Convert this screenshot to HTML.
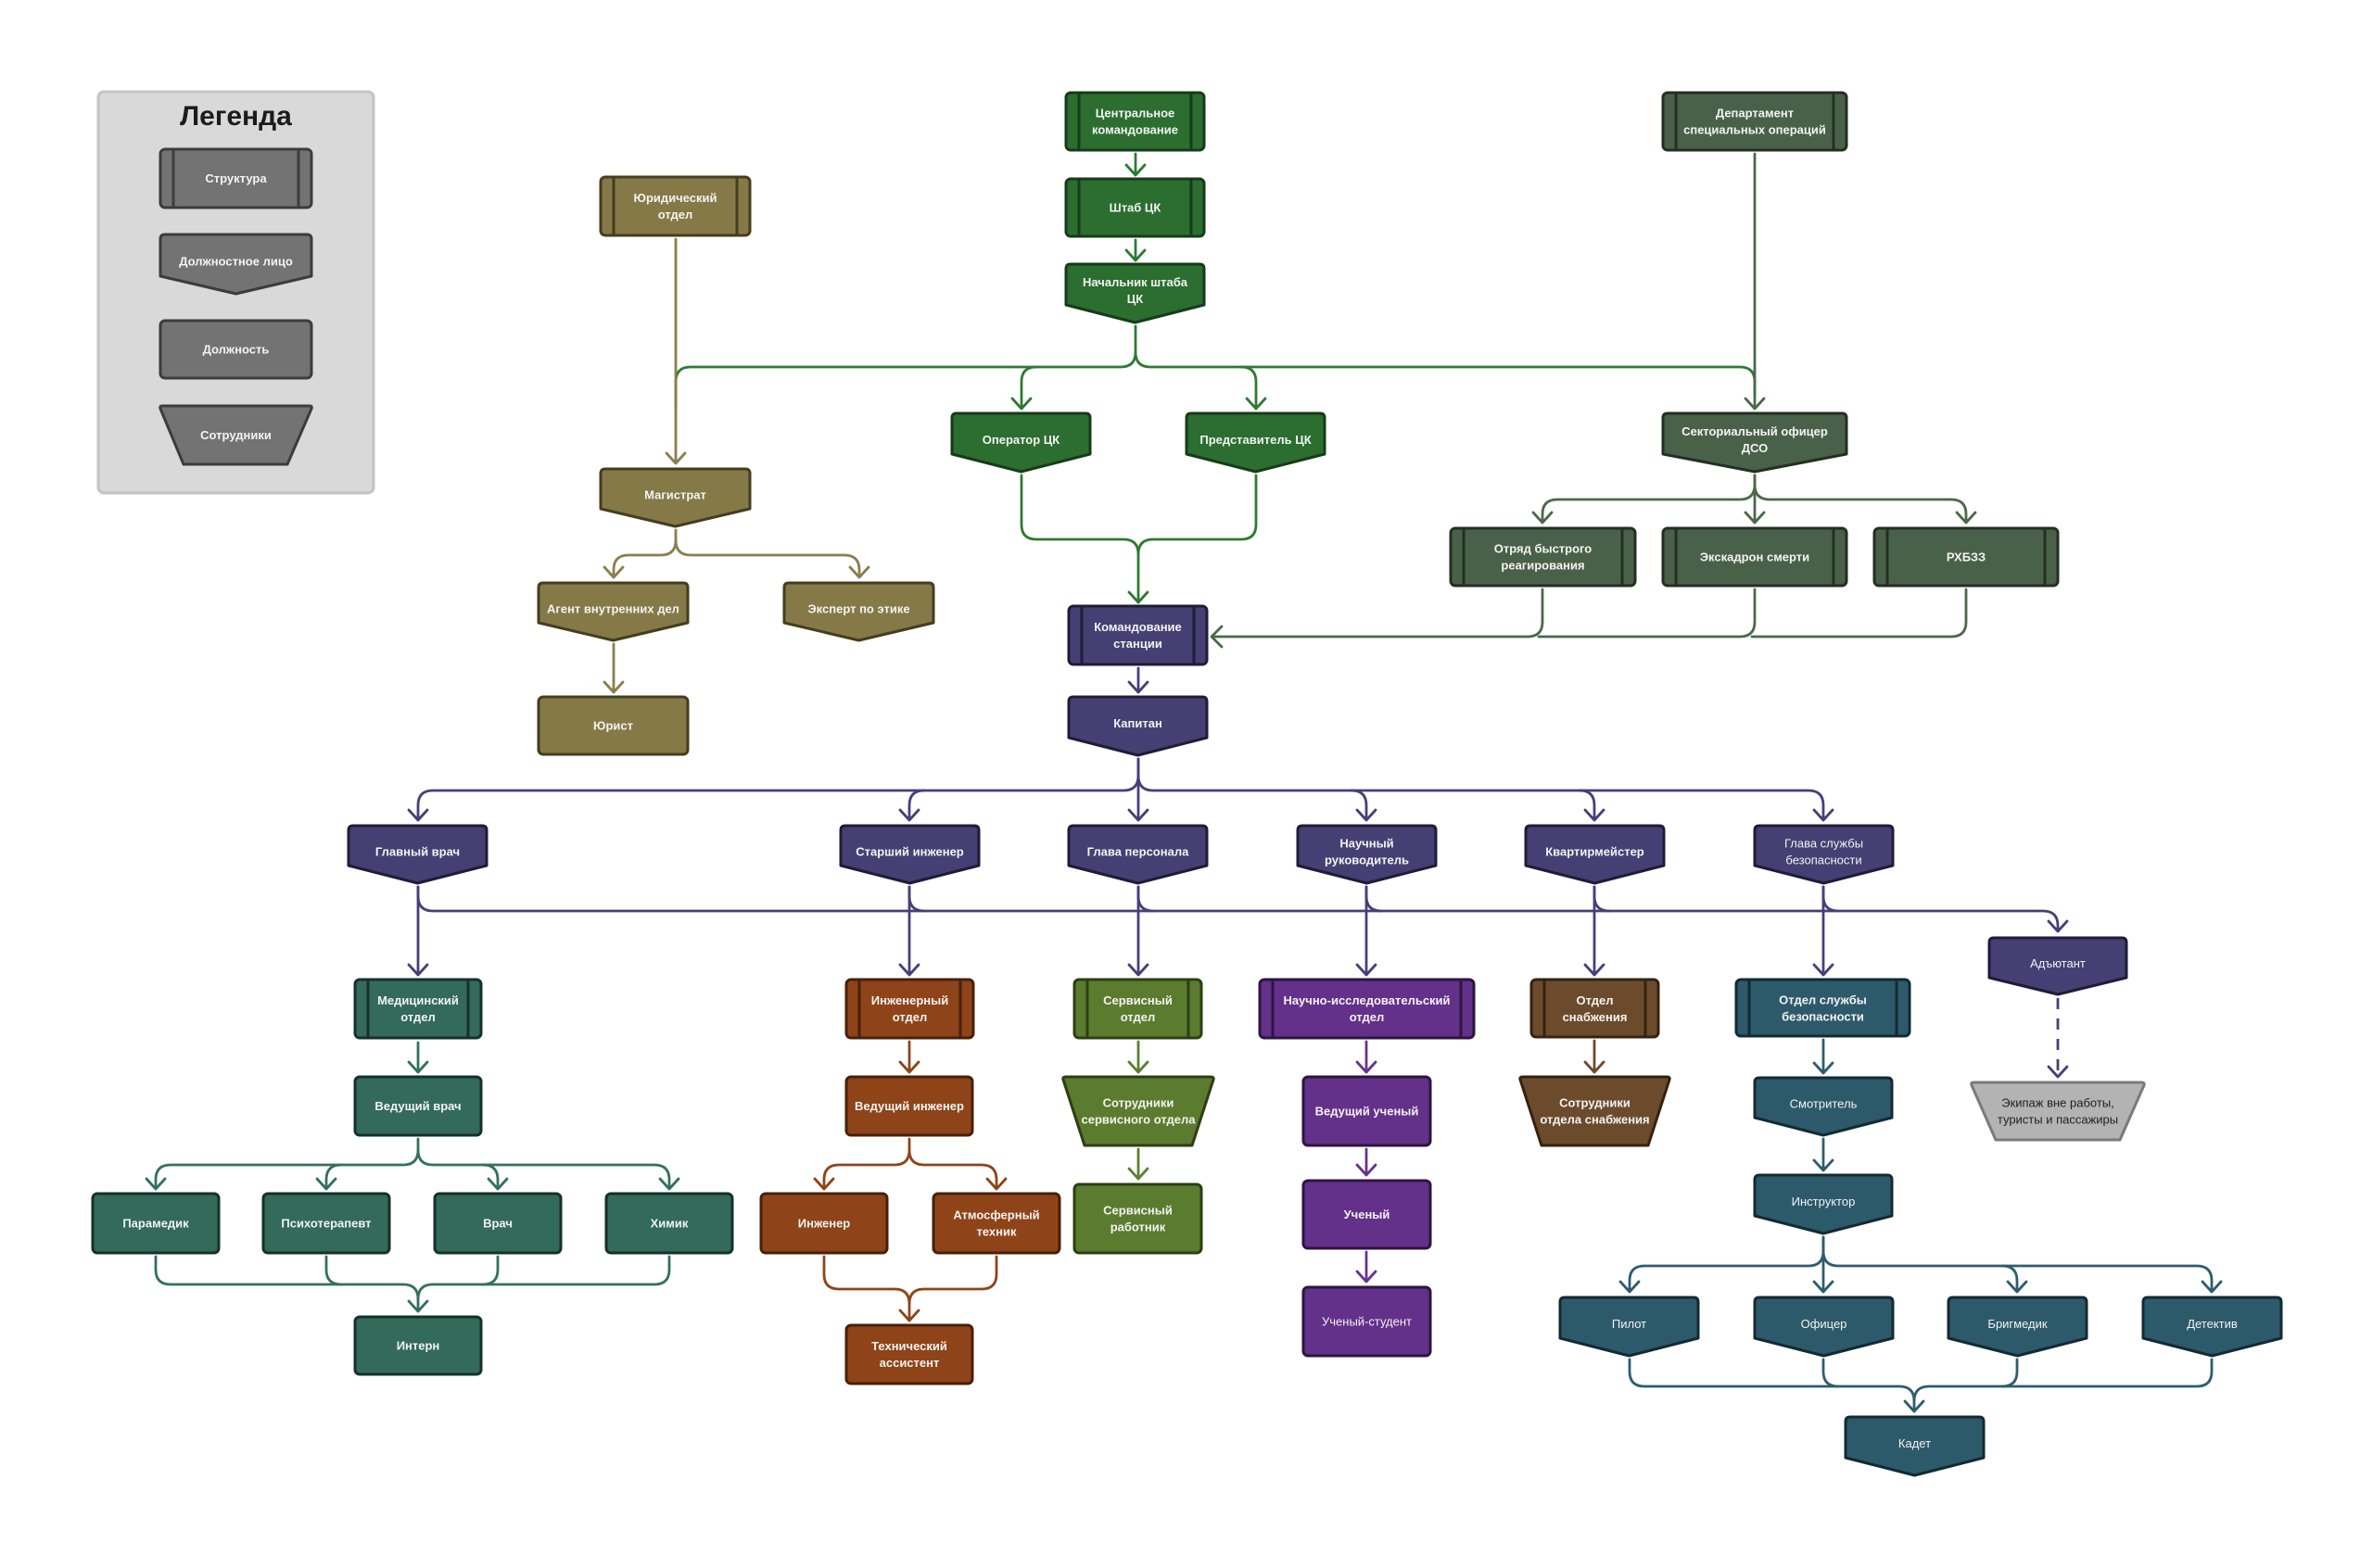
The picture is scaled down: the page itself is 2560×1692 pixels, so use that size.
<!DOCTYPE html>
<html><head><meta charset="utf-8"><title>Org chart</title>
<style>
html,body{margin:0;padding:0;background:#fff;}
svg{display:block;}
text{font-family:"Liberation Sans","DejaVu Sans",sans-serif;font-size:13px;text-anchor:middle;fill:#f3f3f3;font-weight:bold;}
text.n{font-weight:normal;}
.c{fill:none;stroke-width:2.8;stroke-linecap:round;stroke-linejoin:round;}
.nd{stroke-width:3;stroke-linejoin:round;}
</style></head>
<body>
<svg width="2560" height="1692" viewBox="0 0 2560 1692" xmlns="http://www.w3.org/2000/svg">
<rect width="2560" height="1692" fill="#ffffff"/>

<!-- ================= CONNECTORS ================= -->
<!-- Green CK -->
<g class="c" stroke="#2f7a33">
<path d="M1225,166 V189 M1215,178 L1225,189 L1235,178"/>
<path d="M1225,259 V281 M1215,270 L1225,281 L1235,270"/>
<path d="M1225,352 V380 Q1225,396 1209,396 H745 Q729,396 729,412 V440"/>
<path d="M1225,380 Q1225,396 1241,396 H1877 Q1893,396 1893,412 V425"/>
<path d="M1118,396 Q1102,396 1102,412 V441 M1092,430 L1102,441 L1112,430"/>
<path d="M1339,396 Q1355,396 1355,412 V441 M1345,430 L1355,441 L1365,430"/>
<path d="M1102,513 V566 Q1102,582 1118,582 H1212 Q1228,582 1228,598 V650"/>
<path d="M1355,513 V566 Q1355,582 1339,582 H1244 Q1228,582 1228,598"/>
<path d="M1218,639 L1228,650 L1238,639"/>
</g>
<!-- DSO -->
<g class="c" stroke="#4b694b">
<path d="M1893,166 V441 M1883,430 L1893,441 L1903,430"/>
<path d="M1893,513 V523 Q1893,539 1877,539 H1680 Q1664,539 1664,555 V564 M1654,553 L1664,564 L1674,553"/>
<path d="M1893,523 Q1893,539 1909,539 H2105 Q2121,539 2121,555 V564 M2111,553 L2121,564 L2131,553"/>
<path d="M1893,513 V564 M1883,553 L1893,564 L1903,553"/>
<path d="M1664,636 V671 Q1664,687 1648,687 H1308"/>
<path d="M1893,636 V671 Q1893,687 1877,687 H1660"/>
<path d="M2121,636 V671 Q2121,687 2105,687 H1890"/>
<path d="M1318,676 L1307,687 L1318,698"/>
</g>
<!-- Olive -->
<g class="c" stroke="#8a7e4e">
<path d="M729,258 V500 M719,489 L729,500 L739,489"/>
<path d="M729,572 V583 Q729,599 713,599 H678 Q662,599 662,615 V623 M652,612 L662,623 L672,612"/>
<path d="M729,583 Q729,599 745,599 H911 Q927,599 927,615 V623 M917,612 L927,623 L937,612"/>
<path d="M662,695 V747 M652,736 L662,747 L672,736"/>
</g>
<!-- Purple -->
<g class="c" stroke="#473f78">
<path d="M1228,721 V747 M1218,736 L1228,747 L1238,736"/>
<path d="M1228,819 V837 Q1228,853 1212,853 H467 Q451,853 451,869 V885 M441,874 L451,885 L461,874"/>
<path d="M1228,837 Q1228,853 1244,853 H1951 Q1967,853 1967,869 V885 M1957,874 L1967,885 L1977,874"/>
<path d="M1228,819 V885 M1218,874 L1228,885 L1238,874"/>
<path d="M997,853 Q981,853 981,869 V885 M971,874 L981,885 L991,874"/>
<path d="M1458,853 Q1474,853 1474,869 V885 M1464,874 L1474,885 L1484,874"/>
<path d="M1704,853 Q1720,853 1720,869 V885 M1710,874 L1720,885 L1730,874"/>
<path d="M451,957 V967 Q451,983 467,983 H2204 Q2220,983 2220,999 V1005 M2210,994 L2220,1005 L2230,994"/>
<path d="M981,957 V967 Q981,983 997,983"/>
<path d="M1228,957 V967 Q1228,983 1244,983"/>
<path d="M1474,957 V967 Q1474,983 1490,983"/>
<path d="M1720,957 V967 Q1720,983 1736,983"/>
<path d="M1967,957 V967 Q1967,983 1983,983"/>
<path d="M451,957 V1052 M441,1041 L451,1052 L461,1041"/>
<path d="M981,957 V1052 M971,1041 L981,1052 L991,1041"/>
<path d="M1228,957 V1052 M1218,1041 L1228,1052 L1238,1041"/>
<path d="M1474,957 V1052 M1464,1041 L1474,1052 L1484,1041"/>
<path d="M1720,957 V1052 M1710,1041 L1720,1052 L1730,1041"/>
<path d="M1967,957 V1052 M1957,1041 L1967,1052 L1977,1041"/>
<path d="M2220,1077 V1162" stroke-dasharray="12 10" stroke-linecap="butt"/>
<path d="M2210,1151 L2220,1162 L2230,1151"/>
</g>
<!-- Medical -->
<g class="c" stroke="#34705e">
<path d="M451,1125 V1157 M441,1146 L451,1157 L461,1146"/>
<path d="M451,1229 V1241 Q451,1257 435,1257 H184 Q168,1257 168,1273 V1283 M158,1272 L168,1283 L178,1272"/>
<path d="M368,1257 Q352,1257 352,1273 V1283 M342,1272 L352,1283 L362,1272"/>
<path d="M451,1241 Q451,1257 467,1257 H706 Q722,1257 722,1273 V1283 M712,1272 L722,1283 L732,1272"/>
<path d="M521,1257 Q537,1257 537,1273 V1283 M527,1272 L537,1283 L547,1272"/>
<path d="M168,1356 V1370 Q168,1386 184,1386 H435 Q451,1386 451,1402 V1415"/>
<path d="M722,1356 V1370 Q722,1386 706,1386 H467 Q451,1386 451,1402"/>
<path d="M352,1356 V1370 Q352,1386 368,1386"/>
<path d="M537,1356 V1370 Q537,1386 521,1386"/>
<path d="M441,1404 L451,1415 L461,1404"/>
</g>
<!-- Engineering -->
<g class="c" stroke="#8e4519">
<path d="M981,1124 V1157 M971,1146 L981,1157 L991,1146"/>
<path d="M981,1229 V1241 Q981,1257 965,1257 H905 Q889,1257 889,1273 V1283 M879,1272 L889,1283 L899,1272"/>
<path d="M981,1241 Q981,1257 997,1257 H1059 Q1075,1257 1075,1273 V1283 M1065,1272 L1075,1283 L1085,1272"/>
<path d="M889,1356 V1375 Q889,1391 905,1391 H965 Q981,1391 981,1407 V1425"/>
<path d="M1075,1356 V1375 Q1075,1391 1059,1391 H997 Q981,1391 981,1407"/>
<path d="M971,1414 L981,1425 L991,1414"/>
</g>
<!-- Service -->
<g class="c" stroke="#5e7f31">
<path d="M1228,1124 V1157 M1218,1146 L1228,1157 L1238,1146"/>
<path d="M1228,1240 V1272 M1218,1261 L1228,1272 L1238,1261"/>
</g>
<!-- Science -->
<g class="c" stroke="#66348e">
<path d="M1474,1124 V1157 M1464,1146 L1474,1157 L1484,1146"/>
<path d="M1474,1240 V1268 M1464,1257 L1474,1268 L1484,1257"/>
<path d="M1474,1351 V1383 M1464,1372 L1474,1383 L1484,1372"/>
</g>
<!-- Supply -->
<g class="c" stroke="#6c4b2d">
<path d="M1720,1123 V1157 M1710,1146 L1720,1157 L1730,1146"/>
</g>
<!-- Security -->
<g class="c" stroke="#2e5d6e">
<path d="M1967,1122 V1158 M1957,1147 L1967,1158 L1977,1147"/>
<path d="M1967,1229 V1263 M1957,1252 L1967,1263 L1977,1252"/>
<path d="M1967,1335 V1350 Q1967,1366 1951,1366 H1774 Q1758,1366 1758,1382 V1394 M1748,1383 L1758,1394 L1768,1383"/>
<path d="M1967,1350 Q1967,1366 1983,1366 H2370 Q2386,1366 2386,1382 V1394 M2376,1383 L2386,1394 L2396,1383"/>
<path d="M2160,1366 Q2176,1366 2176,1382 V1394 M2166,1383 L2176,1394 L2186,1383"/>
<path d="M1967,1335 V1394 M1957,1383 L1967,1394 L1977,1383"/>
<path d="M1758,1467 V1480 Q1758,1496 1774,1496 H2049 Q2065,1496 2065,1512 V1523"/>
<path d="M2386,1467 V1480 Q2386,1496 2370,1496 H2081 Q2065,1496 2065,1512"/>
<path d="M1967,1467 V1480 Q1967,1496 1983,1496"/>
<path d="M2176,1467 V1480 Q2176,1496 2160,1496"/>
<path d="M2055,1512 L2065,1523 L2075,1512"/>
</g>

<!-- ================= LEGEND ================= -->
<rect x="106" y="99" width="297" height="433" rx="6" fill="#d9d9d9" stroke="#c4c4c4" stroke-width="3"/>
<text x="254.5" y="135" style="font-size:30px;fill:#1c1c1c;">Легенда</text>
<g class="nd" fill="#737373" stroke="#3c3c3c">
<rect x="173" y="161" width="163" height="63" rx="5"/>
<line x1="187" y1="161" x2="187" y2="224"/><line x1="322" y1="161" x2="322" y2="224"/>
<path d="M178,253 H331 Q336,253 336,258 V298 L254.5,317 L173,298 V258 Q173,253 178,253 Z"/>
<rect x="173" y="346" width="163" height="62" rx="5"/>
<path d="M175,438 H334 Q337,438 336,441 L310,501 H198 L173,441 Q172,438 175,438 Z"/>
</g>
<text x="254.5" y="197">Структура</text>
<text x="254.5" y="286.5">Должностное лицо</text>
<text x="254.5" y="381.5">Должность</text>
<text x="254.5" y="474">Сотрудники</text>

<!-- ================= GREEN CK ================= -->
<g class="nd" fill="#2b6e2f" stroke="#173b19">
<rect x="1150" y="100" width="149" height="62" rx="5"/>
<line x1="1164" y1="100" x2="1164" y2="162"/><line x1="1285" y1="100" x2="1285" y2="162"/>
<rect x="1150" y="193" width="149" height="62" rx="5"/>
<line x1="1164" y1="193" x2="1164" y2="255"/><line x1="1285" y1="193" x2="1285" y2="255"/>
<path d="M1155,285 H1294 Q1299,285 1299,290 V329 L1224.5,348 L1150,329 V290 Q1150,285 1155,285 Z"/>
<path d="M1032,446 H1171 Q1176,446 1176,451 V490 L1101.5,509 L1027,490 V451 Q1027,446 1032,446 Z"/>
<path d="M1285,446 H1424 Q1429,446 1429,451 V490 L1354.5,509 L1280,490 V451 Q1280,446 1285,446 Z"/>
</g>
<text x="1224.5" y="126.5">Центральное</text><text x="1224.5" y="144.5">командование</text>
<text x="1224.5" y="228.5">Штаб ЦК</text>
<text x="1224.5" y="309">Начальник штаба</text><text x="1224.5" y="327">ЦК</text>
<text x="1101.5" y="479">Оператор ЦК</text>
<text x="1354.5" y="479">Представитель ЦК</text>

<!-- ================= DSO ================= -->
<g class="nd" fill="#4a6149" stroke="#232f23">
<rect x="1794" y="100" width="198" height="62" rx="5"/>
<line x1="1808" y1="100" x2="1808" y2="162"/><line x1="1978" y1="100" x2="1978" y2="162"/>
<path d="M1799,446 H1987 Q1992,446 1992,451 V490 L1893,509 L1794,490 V451 Q1794,446 1799,446 Z"/>
<rect x="1565" y="570" width="199" height="62" rx="5"/>
<line x1="1579" y1="570" x2="1579" y2="632"/><line x1="1750" y1="570" x2="1750" y2="632"/>
<rect x="1794" y="570" width="198" height="62" rx="5"/>
<line x1="1808" y1="570" x2="1808" y2="632"/><line x1="1978" y1="570" x2="1978" y2="632"/>
<rect x="2022" y="570" width="198" height="62" rx="5"/>
<line x1="2036" y1="570" x2="2036" y2="632"/><line x1="2206" y1="570" x2="2206" y2="632"/>
</g>
<text x="1893" y="126.5">Департамент</text><text x="1893" y="144.5">специальных операций</text>
<text x="1893" y="470">Секториальный офицер</text><text x="1893" y="488">ДСО</text>
<text x="1664.5" y="596.5">Отряд быстрого</text><text x="1664.5" y="614.5">реагирования</text>
<text x="1893" y="605.5">Экскадрон смерти</text>
<text x="2121" y="605.5">РХБЗЗ</text>

<!-- ================= OLIVE ================= -->
<g class="nd" fill="#857947" stroke="#443d1f">
<rect x="648" y="191" width="161" height="63" rx="5"/>
<line x1="662" y1="191" x2="662" y2="254"/><line x1="795" y1="191" x2="795" y2="254"/>
<path d="M653,506 H804 Q809,506 809,511 V549 L728.5,568 L648,549 V511 Q648,506 653,506 Z"/>
<path d="M586,629 H737 Q742,629 742,634 V672 L661.5,691 L581,672 V634 Q581,629 586,629 Z"/>
<path d="M851,629 H1002 Q1007,629 1007,634 V672 L926.5,691 L846,672 V634 Q846,629 851,629 Z"/>
<rect x="581" y="752" width="161" height="62" rx="5"/>
</g>
<text x="728.5" y="218">Юридический</text><text x="728.5" y="236">отдел</text>
<text x="728.5" y="538.5">Магистрат</text>
<text x="661.5" y="661.5">Агент внутренних дел</text>
<text x="926.5" y="661.5">Эксперт по этике</text>
<text x="661.5" y="787.5">Юрист</text>

<!-- ================= PURPLE ================= -->
<g class="nd" fill="#463f73" stroke="#1f1c37">
<rect x="1153" y="654" width="149" height="63" rx="5"/>
<line x1="1167" y1="654" x2="1167" y2="717"/><line x1="1288" y1="654" x2="1288" y2="717"/>
<path d="M1158,752 H1297 Q1302,752 1302,757 V796 L1227.5,815 L1153,796 V757 Q1153,752 1158,752 Z"/>
<path d="M381,891 H520 Q525,891 525,896 V934 L450.5,953 L376,934 V896 Q376,891 381,891 Z"/>
<path d="M912,891 H1051 Q1056,891 1056,896 V934 L981.5,953 L907,934 V896 Q907,891 912,891 Z"/>
<path d="M1158,891 H1297 Q1302,891 1302,896 V934 L1227.5,953 L1153,934 V896 Q1153,891 1158,891 Z"/>
<path d="M1405,891 H1544 Q1549,891 1549,896 V934 L1474.5,953 L1400,934 V896 Q1400,891 1405,891 Z"/>
<path d="M1651,891 H1790 Q1795,891 1795,896 V934 L1720.5,953 L1646,934 V896 Q1646,891 1651,891 Z"/>
<path d="M1898,891 H2037 Q2042,891 2042,896 V934 L1967.5,953 L1893,934 V896 Q1893,891 1898,891 Z"/>
<path d="M2151,1012 H2289 Q2294,1012 2294,1017 V1055 L2220,1073 L2146,1055 V1017 Q2146,1012 2151,1012 Z"/>
</g>
<text x="1227.5" y="681">Командование</text><text x="1227.5" y="699">станции</text>
<text x="1227.5" y="785">Капитан</text>
<text x="450.5" y="923.5">Главный врач</text>
<text x="981.5" y="923.5">Старший инженер</text>
<text x="1227.5" y="923.5">Глава персонала</text>
<text x="1474.5" y="914.5">Научный</text><text x="1474.5" y="932.5">руководитель</text>
<text x="1720.5" y="923.5">Квартирмейстер</text>
<text class="n" x="1967.5" y="914.5">Глава службы</text><text class="n" x="1967.5" y="932.5">безопасности</text>
<text class="n" x="2220" y="1044">Адъютант</text>

<!-- Crew trapezoid -->
<path class="nd" d="M2129,1168 H2310 Q2314,1168 2313,1171 L2287,1230 H2153 L2127,1171 Q2126,1168 2129,1168 Z" fill="#b3b3b3" stroke="#7a7a7a"/>
<text class="n" x="2220" y="1194.5" style="fill:#222">Экипаж вне работы,</text>
<text class="n" x="2220" y="1212.5" style="fill:#222">туристы и пассажиры</text>

<!-- ================= MEDICAL ================= -->
<g class="nd" fill="#336a5a" stroke="#16302a">
<rect x="383" y="1057" width="136" height="63" rx="5"/>
<line x1="397" y1="1057" x2="397" y2="1120"/><line x1="505" y1="1057" x2="505" y2="1120"/>
<rect x="383" y="1162" width="136" height="63" rx="5"/>
<rect x="100" y="1288" width="136" height="64" rx="5"/>
<rect x="284" y="1288" width="136" height="64" rx="5"/>
<rect x="469" y="1288" width="136" height="64" rx="5"/>
<rect x="654" y="1288" width="136" height="64" rx="5"/>
<rect x="383" y="1421" width="136" height="62" rx="5"/>
</g>
<text x="451" y="1084">Медицинский</text><text x="451" y="1102">отдел</text>
<text x="451" y="1198">Ведущий врач</text>
<text x="168" y="1324.5">Парамедик</text>
<text x="352" y="1324.5">Психотерапевт</text>
<text x="537" y="1324.5">Врач</text>
<text x="722" y="1324.5">Химик</text>
<text x="451" y="1456.5">Интерн</text>

<!-- ================= ENGINEERING ================= -->
<g class="nd" fill="#8e4318" stroke="#47200b">
<rect x="913" y="1057" width="137" height="63" rx="5"/>
<line x1="927" y1="1057" x2="927" y2="1120"/><line x1="1036" y1="1057" x2="1036" y2="1120"/>
<rect x="913" y="1162" width="136" height="63" rx="5"/>
<rect x="821" y="1288" width="136" height="64" rx="5"/>
<rect x="1007" y="1288" width="136" height="64" rx="5"/>
<rect x="913" y="1430" width="136" height="63" rx="5"/>
</g>
<text x="981.5" y="1084">Инженерный</text><text x="981.5" y="1102">отдел</text>
<text x="981" y="1198">Ведущий инженер</text>
<text x="889" y="1324.5">Инженер</text>
<text x="1075" y="1315.5">Атмосферный</text><text x="1075" y="1333.5">техник</text>
<text x="981" y="1457">Технический</text><text x="981" y="1475">ассистент</text>

<!-- ================= SERVICE ================= -->
<g class="nd" fill="#5b7b2e" stroke="#2c3f14">
<rect x="1159" y="1057" width="137" height="63" rx="5"/>
<line x1="1173" y1="1057" x2="1173" y2="1120"/><line x1="1282" y1="1057" x2="1282" y2="1120"/>
<path d="M1150,1162 H1306 Q1310,1162 1309,1165 L1286,1236 H1170 L1147,1165 Q1146,1162 1150,1162 Z"/>
<rect x="1159" y="1278" width="137" height="74" rx="5"/>
</g>
<text x="1227.5" y="1084">Сервисный</text><text x="1227.5" y="1102">отдел</text>
<text x="1228" y="1194.5">Сотрудники</text><text x="1228" y="1212.5">сервисного отдела</text>
<text x="1227.5" y="1310.5">Сервисный</text><text x="1227.5" y="1328.5">работник</text>

<!-- ================= SCIENCE ================= -->
<g class="nd" fill="#63308a" stroke="#2e153f">
<rect x="1359" y="1057" width="231" height="63" rx="5"/>
<line x1="1373" y1="1057" x2="1373" y2="1120"/><line x1="1576" y1="1057" x2="1576" y2="1120"/>
<rect x="1406" y="1162" width="137" height="74" rx="5"/>
<rect x="1406" y="1274" width="137" height="73" rx="5"/>
<rect x="1406" y="1389" width="137" height="74" rx="5"/>
</g>
<text x="1474.5" y="1084">Научно-исследовательский</text><text x="1474.5" y="1102">отдел</text>
<text x="1474.5" y="1203.5">Ведущий ученый</text>
<text x="1474.5" y="1315">Ученый</text>
<text class="n" x="1474.5" y="1430.5">Ученый-студент</text>

<!-- ================= SUPPLY ================= -->
<g class="nd" fill="#6c4b2d" stroke="#34230f">
<rect x="1652" y="1057" width="137" height="62" rx="5"/>
<line x1="1666" y1="1057" x2="1666" y2="1119"/><line x1="1775" y1="1057" x2="1775" y2="1119"/>
<path d="M1643,1162 H1798 Q1802,1162 1801,1165 L1778,1236 H1663 L1640,1165 Q1639,1162 1643,1162 Z"/>
</g>
<text x="1720.5" y="1084">Отдел</text><text x="1720.5" y="1102">снабжения</text>
<text x="1720.5" y="1194.5">Сотрудники</text><text x="1720.5" y="1212.5">отдела снабжения</text>

<!-- ================= SECURITY ================= -->
<g class="nd" fill="#2d5a6a" stroke="#132a33">
<rect x="1873" y="1057" width="187" height="61" rx="5"/>
<line x1="1887" y1="1057" x2="1887" y2="1118"/><line x1="2046" y1="1057" x2="2046" y2="1118"/>
<path d="M1898,1163 H2036 Q2041,1163 2041,1168 V1206 L1967,1225 L1893,1206 V1168 Q1893,1163 1898,1163 Z"/>
<path d="M1898,1268 H2036 Q2041,1268 2041,1273 V1312 L1967,1331 L1893,1312 V1273 Q1893,1268 1898,1268 Z"/>
<path d="M1688,1400 H1827 Q1832,1400 1832,1405 V1444 L1757.5,1463 L1683,1444 V1405 Q1683,1400 1688,1400 Z"/>
<path d="M1898,1400 H2037 Q2042,1400 2042,1405 V1444 L1967.5,1463 L1893,1444 V1405 Q1893,1400 1898,1400 Z"/>
<path d="M2107,1400 H2246 Q2251,1400 2251,1405 V1444 L2176.5,1463 L2102,1444 V1405 Q2102,1400 2107,1400 Z"/>
<path d="M2317,1400 H2456 Q2461,1400 2461,1405 V1444 L2386.5,1463 L2312,1444 V1405 Q2312,1400 2317,1400 Z"/>
<path d="M1996,1529 H2135 Q2140,1529 2140,1534 V1573 L2065.5,1592 L1991,1573 V1534 Q1991,1529 1996,1529 Z"/>
</g>
<text x="1966.5" y="1083.5">Отдел службы</text><text x="1966.5" y="1101.5">безопасности</text>
<text class="n" x="1967" y="1195.5">Смотритель</text>
<text class="n" x="1967" y="1301">Инструктор</text>
<text class="n" x="1757.5" y="1433">Пилот</text>
<text class="n" x="1967.5" y="1433">Офицер</text>
<text class="n" x="2176.5" y="1433">Бригмедик</text>
<text class="n" x="2386.5" y="1433">Детектив</text>
<text class="n" x="2065.5" y="1562">Кадет</text>
</svg>
</body></html>
